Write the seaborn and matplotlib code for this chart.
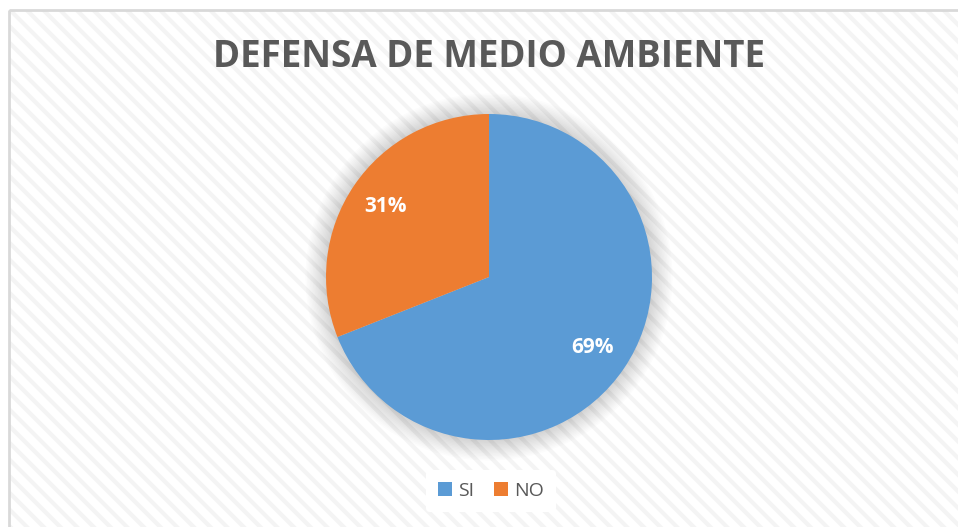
import matplotlib
matplotlib.use('Agg')
import matplotlib.pyplot as plt
from matplotlib.patches import Rectangle, Circle, Patch
import seaborn as sns

# --- data ---
labels = ['SI', 'NO']
values = [69, 31]
title = 'DEFENSA DE MEDIO AMBIENTE'

sns.set_style('white')
palette = ['#5B9BD5', '#ED7D31']
plt.rcParams['font.family'] = ['Open Sans', 'DejaVu Sans']
plt.rcParams['hatch.linewidth'] = 3.0

W, H = 958, 527
fig = plt.figure(figsize=(W / 100, H / 100), dpi=100)
fig.patch.set_facecolor('white')

# background with diagonal stripes and thin frame
bg = fig.add_axes([0, 0, 1, 1])
bg.set_xlim(0, W)
bg.set_ylim(H, 0)
bg.axis('off')
bg.add_patch(Rectangle((9, 10), W, H, facecolor='white', edgecolor='#f4f4f4',
                       hatch='\\\\', lw=0, zorder=0))
bg.add_patch(Rectangle((9, 10), W, H, facecolor='none', edgecolor='#d9d9d9',
                       lw=2, zorder=1))

# title
fig.text(489 / W, 1 - 57 / H, title, ha='center', va='center',
         fontsize=26.5, fontweight='bold', color='#595959')

# pie
cx, cy, r = 489, 277, 163
lim = 1.15
half = r * lim
ax = fig.add_axes([(cx - half) / W, (H - cy - half) / H, 2 * half / W, 2 * half / H])

# soft shadow around the pie
for i in range(14):
    ax.add_patch(Circle((0, 0), 1.0 + 0.009 * (14 - i), color='#000000',
                        alpha=0.010, lw=0, zorder=0))

wedges, _, autotexts = ax.pie(values, colors=palette, startangle=90, counterclock=False,
                              autopct='%1.0f%%', pctdistance=0.77, radius=1,
                              wedgeprops=dict(linewidth=0))
ax.set_xlim(-lim, lim)
ax.set_ylim(-lim, lim)
ax.set_aspect('equal')
ax.axis('off')
for t in autotexts:
    t.set_color('white')
    t.set_fontsize(15)
    t.set_fontweight('bold')

# legend
handles = [Patch(facecolor=c, edgecolor='none') for c in palette]
leg = fig.legend(handles, labels, loc='center', bbox_to_anchor=(491 / W, 1 - 491 / H),
                 ncol=2, frameon=True, fontsize=14, handlelength=0.75, handleheight=0.75,
                 handletextpad=0.3, columnspacing=1.0, borderpad=0.6)
leg.get_frame().set_facecolor('white')
leg.get_frame().set_edgecolor('none')
leg.get_frame().set_alpha(1)
for t in leg.get_texts():
    t.set_color('#595959')

fig.savefig('out.png', dpi=100)
